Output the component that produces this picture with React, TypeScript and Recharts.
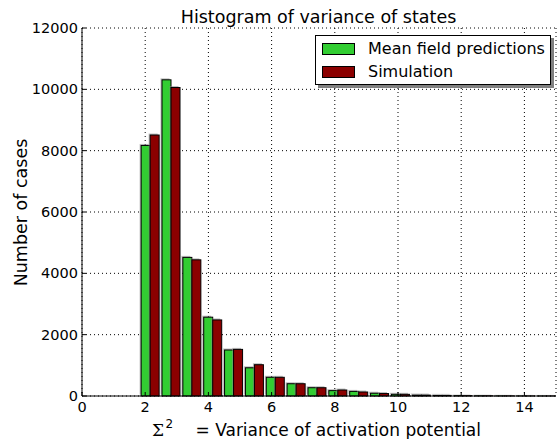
import { BarChart, Bar, XAxis, YAxis, CartesianGrid } from 'recharts'

const binCenters = [2.17, 2.83, 3.49, 4.15, 4.81, 5.47, 6.13, 6.79, 7.45, 8.11, 8.77, 9.43, 10.09, 10.75, 11.41, 12.07, 12.73, 13.39, 14.05, 14.71]
const meanField = [8170, 10310, 4520, 2570, 1500, 920, 610, 400, 270, 175, 150, 90, 55, 30, 20, 12, 8, 5, 3, 2]
const simulation = [8510, 10060, 4440, 2480, 1520, 1020, 610, 400, 270, 195, 130, 80, 55, 30, 20, 12, 8, 5, 3, 2]
const xTicks = [0, 2, 4, 6, 8, 10, 12, 14]
const yTicks = [0, 2000, 4000, 6000, 8000, 10000, 12000]

const series = [
  { key: 'meanField', name: 'Mean field predictions', fill: '#32cd32' },
  { key: 'simulation', name: 'Simulation', fill: '#8b0000' },
]

const data = binCenters.map((x, i) => ({ x, meanField: meanField[i], simulation: simulation[i] }))

const font = '"DejaVu Sans", sans-serif'

// bar with the little matplotlib-style drop shadow
function ShadowBar(props: any) {
  const { x, y, width, height, fill } = props
  if (!height || height <= 0) return null
  return (
    <g>
      <rect x={x - 1.5} y={y - 1.5} width={width} height={height} fill="#888" opacity={0.55} />
      <rect x={x} y={y} width={width} height={height} fill={fill} stroke="#000" strokeWidth={1} />
    </g>
  )
}

export default function App() {
  return (
    <div style={{ position: 'absolute', left: 0, top: 0, width: 557, height: 439, background: '#fff' }}>
      <BarChart
        width={557}
        height={439}
        data={data}
        margin={{ top: 28, right: 1, bottom: 0, left: 0 }}
        barGap={0}
        barSize={9}
      >
        <XAxis
          dataKey="x"
          type="number"
          domain={[0, 15]}
          ticks={xTicks}
          allowDataOverflow
          interval={0}
          height={43}
          tickSize={-4}
          tickMargin={10}
          stroke="#000"
          tick={{ fill: '#000', fontSize: 14.5, fontFamily: font }}
        />
        <XAxis xAxisId="top" orientation="top" type="number" domain={[0, 15]} ticks={xTicks} height={0} tick={false} tickSize={-4} stroke="#000" />
        <YAxis
          type="number"
          domain={[0, 12000]}
          ticks={yTicks}
          interval={0}
          width={82}
          tickSize={-4}
          tickMargin={8}
          stroke="#000"
          tick={{ fill: '#000', fontSize: 14.5, fontFamily: font }}
        />
        <YAxis yAxisId="right" orientation="right" type="number" domain={[0, 12000]} ticks={yTicks} width={0} tick={false} tickSize={-4} stroke="#000" />
        {series.map((s) => (
          <Bar key={s.key} dataKey={s.key} name={s.name} fill={s.fill} shape={ShadowBar} isAnimationActive={false} />
        ))}
        <CartesianGrid stroke="#000" strokeDasharray="1 3" />
      </BarChart>

      <svg width={557} height={439} style={{ position: 'absolute', left: 0, top: 0, pointerEvents: 'none' }}>
        <text x={318.5} y={23} textAnchor="middle" fontSize={17.5} fontFamily={font} fill="#000">
          Histogram of variance of states
        </text>
        <text transform="translate(27,212.5) rotate(-90)" textAnchor="middle" fontSize={17.5} fontFamily={font} fill="#000">
          Number of cases
        </text>
        <text y={435.5} fontSize={17} fontFamily={font} fill="#000">
          <tspan x={152} fontFamily='"DejaVu Serif", serif'>Σ</tspan>
          <tspan x={165.5} y={427.5} fontSize={12}>2</tspan>
          <tspan x={195.5} y={435.5}>= Variance of activation potential</tspan>
        </text>
      </svg>

      <div
        style={{
          position: 'absolute',
          left: 315,
          top: 35,
          width: 234,
          height: 48,
          border: '1px solid #000',
          background: '#fff',
          boxShadow: '3px 3px 0 #808080',
          fontFamily: font,
          fontSize: 16,
        }}
      >
        {series.map((s, i) => (
          <div key={s.key} style={{ position: 'absolute', left: 6, top: 7 + i * 23, height: 12, display: 'flex', alignItems: 'center' }}>
            <div style={{ width: 31, height: 10, background: s.fill, border: '1px solid #000' }} />
            <span style={{ marginLeft: 13, whiteSpace: 'nowrap', lineHeight: '12px' }}>{s.name}</span>
          </div>
        ))}
      </div>
    </div>
  )
}
